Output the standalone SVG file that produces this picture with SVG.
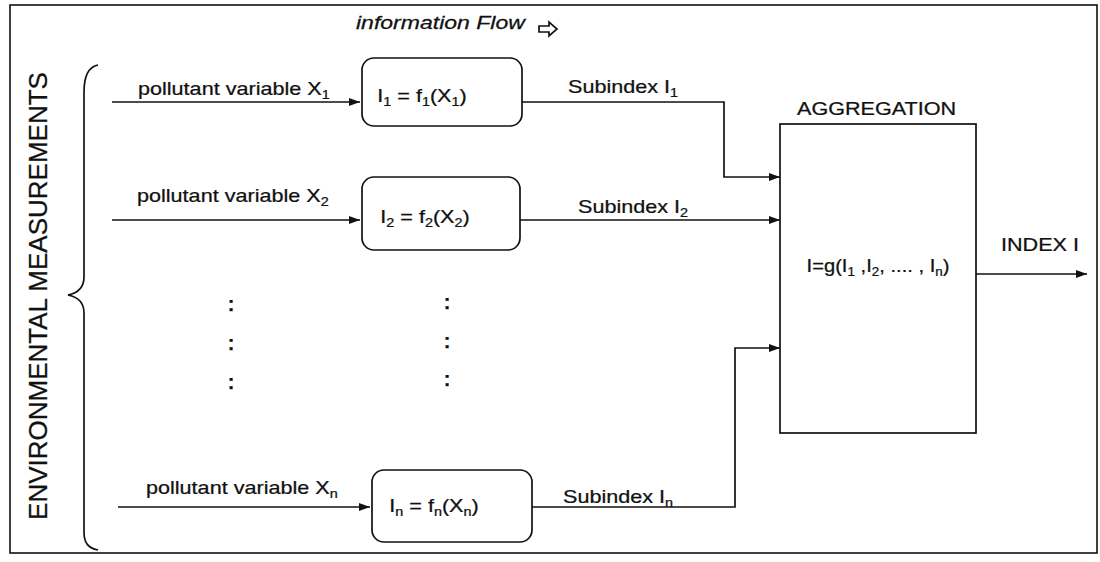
<svg xmlns="http://www.w3.org/2000/svg" width="1100" height="562" viewBox="0 0 1100 562">
<style>
text{font-family:"Liberation Sans",Arial,Helvetica,sans-serif;font-size:18px;fill:#111;stroke:#111;stroke-width:0.25}
.it{font-style:italic;font-size:18px}
.big{font-size:26px}
.ln{fill:none;stroke:#111;stroke-width:1.7}
.box{fill:#fff;stroke:#111;stroke-width:1.7}
.sub{font-size:12px}
.dot{font-size:20px;font-weight:bold}
</style>
<defs>
<marker id="ah" markerWidth="12" markerHeight="10" refX="11" refY="5" orient="auto" markerUnits="userSpaceOnUse">
<path d="M0,1 L11,5 L0,9 Z" fill="#111"/>
</marker>
</defs>
<rect x="10" y="5" width="1087" height="548" fill="#fff" stroke="#111" stroke-width="1.6"/>
<g id="title">
<text class="it" transform="translate(356,29) scale(1.28,1)">information Flow</text>
<path class="ln" d="M539,26 H549 V22 L557,29 L549,36 V32 H539 Z"/>
</g>
<g id="env">
<path class="ln" d="M98,65 C88,67 84,78 84,92 L84,277 C84,288 78,293 68,295 C78,297 84,302 84,313 L84,532 C84,543 88,548 98,550"/>
<text class="big" text-anchor="middle" transform="translate(47,296) rotate(-90)">ENVIRONMENTAL MEASUREMENTS</text>
</g>
<g id="connectors">
<path class="ln" d="M112,102 H360" marker-end="url(#ah)"/>
<path class="ln" d="M112,220 H360" marker-end="url(#ah)"/>
<path class="ln" d="M118,507 H370" marker-end="url(#ah)"/>
<path class="ln" d="M522,102 H724 V177 H780" marker-end="url(#ah)"/>
<path class="ln" d="M520,220 H780" marker-end="url(#ah)"/>
<path class="ln" d="M532,507 H735 V348 H780" marker-end="url(#ah)"/>
<path class="ln" d="M976,274 H1087" marker-end="url(#ah)"/>
<text transform="translate(138,95) scale(1.2,1)">pollutant variable X<tspan class="sub" dy="4">1</tspan></text>
<text transform="translate(137,202) scale(1.2,1)">pollutant variable X<tspan class="sub" dy="4">2</tspan></text>
<text transform="translate(146,494) scale(1.2,1)">pollutant variable X<tspan class="sub" dy="4">n</tspan></text>
<text transform="translate(568,93) scale(1.2,1)">Subindex I<tspan class="sub" dy="4">1</tspan></text>
<text transform="translate(578,213) scale(1.2,1)">Subindex I<tspan class="sub" dy="4">2</tspan></text>
<text transform="translate(563,503) scale(1.2,1)">Subindex I<tspan class="sub" dy="4">n</tspan></text>
<text transform="translate(1001,251) scale(1.2,1)">INDEX I</text>
</g>
<g id="f1">
<rect class="box" x="362" y="58" width="160" height="68" rx="12"/>
<text text-anchor="middle" transform="translate(422,102) scale(1.2,1)">I<tspan class="sub" dy="4">1</tspan><tspan dy="-4"> = f</tspan><tspan class="sub" dy="4">1</tspan><tspan dy="-4">(X</tspan><tspan class="sub" dy="4">1</tspan><tspan dy="-4">)</tspan></text>
</g>
<g id="f2">
<rect class="box" x="362" y="177" width="158" height="73" rx="12"/>
<text text-anchor="middle" transform="translate(425,223) scale(1.2,1)">I<tspan class="sub" dy="4">2</tspan><tspan dy="-4"> = f</tspan><tspan class="sub" dy="4">2</tspan><tspan dy="-4">(X</tspan><tspan class="sub" dy="4">2</tspan><tspan dy="-4">)</tspan></text>
</g>
<g id="dots">
<text class="dot" text-anchor="middle" x="231" y="311">:</text>
<text class="dot" text-anchor="middle" x="231" y="350">:</text>
<text class="dot" text-anchor="middle" x="231" y="389">:</text>
<text class="dot" text-anchor="middle" x="447" y="309">:</text>
<text class="dot" text-anchor="middle" x="447" y="348">:</text>
<text class="dot" text-anchor="middle" x="447" y="386">:</text>
</g>
<g id="fn">
<rect class="box" x="372" y="470" width="160" height="72" rx="12"/>
<text text-anchor="middle" transform="translate(434,512) scale(1.2,1)">I<tspan class="sub" dy="4">n</tspan><tspan dy="-4"> = f</tspan><tspan class="sub" dy="4">n</tspan><tspan dy="-4">(X</tspan><tspan class="sub" dy="4">n</tspan><tspan dy="-4">)</tspan></text>
</g>
<g id="aggregation">
<text transform="translate(797,115) scale(1.2,1)">AGGREGATION</text>
<rect class="box" x="780" y="124" width="196" height="309"/>
<text text-anchor="middle" transform="translate(878,272) scale(1.12,1)">I=g(I<tspan class="sub" dy="4">1</tspan><tspan dy="-4"> ,I</tspan><tspan class="sub" dy="4">2</tspan><tspan dy="-4">, .... , I</tspan><tspan class="sub" dy="4">n</tspan><tspan dy="-4">)</tspan></text>
</g>
</svg>
